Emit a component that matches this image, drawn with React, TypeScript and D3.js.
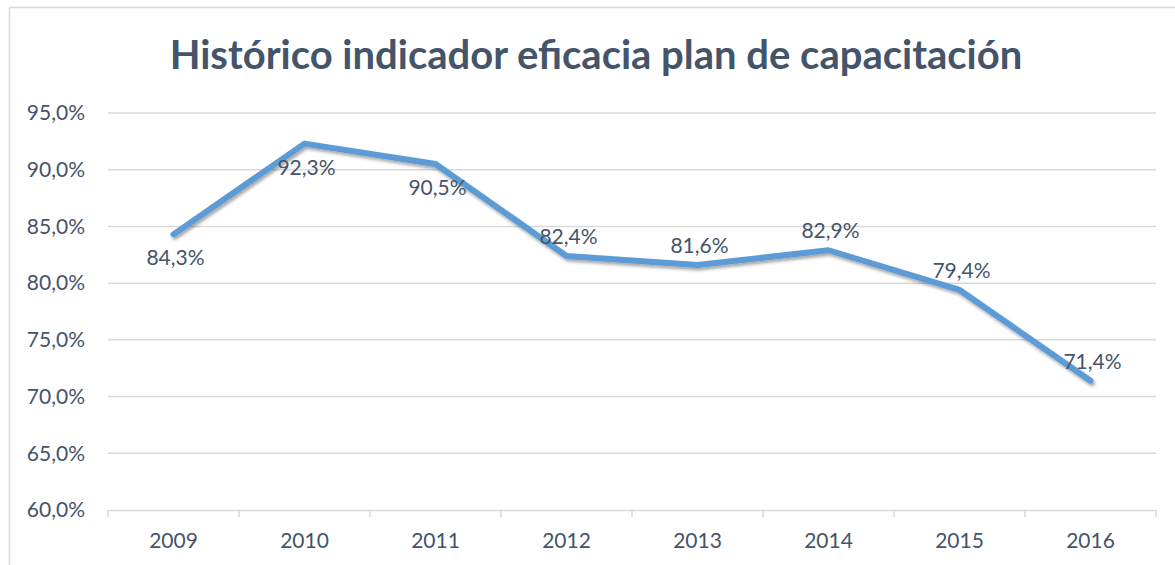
import React, { useEffect, useRef } from 'react';
import * as d3 from 'd3';

const years = ['2009', '2010', '2011', '2012', '2013', '2014', '2015', '2016'];
const eficacia = [84.3, 92.3, 90.5, 82.4, 81.6, 82.9, 79.4, 71.4];
const labelPlacement = ['below', 'below', 'below', 'above', 'above', 'above', 'above', 'above'];
const yTicks = [60, 65, 70, 75, 80, 85, 90, 95];

const title = 'Histórico indicador eficacia plan de capacitación';
const textColor = '#44546A';
const gridColor = '#D9D9D9';
const lineColor = '#5B9BD5';
const font = 'Lato, "Open Sans", sans-serif';

const fmt = (v: number) => v.toFixed(1).replace('.', ',') + '%';

const App = () => {
  const ref = useRef<SVGSVGElement>(null);

  useEffect(() => {
    const svg = d3.select(ref.current);
    svg.selectAll('*').remove();

    const width = 1175;
    const height = 565;
    const margin = { top: 113, right: 19, bottom: 55, left: 108 };

    const x = d3.scaleBand()
      .domain(years)
      .range([margin.left, width - margin.right])
      .padding(0);

    const y = d3.scaleLinear()
      .domain([60, 95])
      .range([height - margin.bottom, margin.top]);

    const defs = svg.append('defs');
    const shadow = defs.append('filter')
      .attr('id', 'lineShadow')
      .attr('x', '-5%').attr('y', '-5%')
      .attr('width', '110%').attr('height', '120%');
    shadow.append('feDropShadow')
      .attr('dx', 1.5).attr('dy', 2.5)
      .attr('stdDeviation', 1.6)
      .attr('flood-color', '#000')
      .attr('flood-opacity', 0.35);

    svg.append('rect')
      .attr('x', 9.5).attr('y', 7.5)
      .attr('width', width + 20).attr('height', height + 20)
      .attr('fill', '#fff')
      .attr('stroke', gridColor)
      .attr('stroke-width', 1.5);

    svg.append('text')
      .attr('x', 596).attr('y', 69)
      .attr('text-anchor', 'middle')
      .attr('font-family', font)
      .attr('font-weight', 700)
      .attr('font-size', 40)
      .attr('fill', textColor)
      .text(title);

    // gridlines
    svg.append('g')
      .selectAll('line')
      .data(yTicks.filter(t => t !== 60))
      .join('line')
      .attr('x1', margin.left).attr('x2', width - margin.right)
      .attr('y1', d => y(d)).attr('y2', d => y(d))
      .attr('stroke', gridColor)
      .attr('stroke-width', 1.5);

    // y axis labels
    const yAxis = svg.append('g')
      .attr('transform', `translate(${margin.left},0)`)
      .call(d3.axisLeft(y).tickValues(yTicks).tickSize(0).tickPadding(23).tickFormat(d => fmt(d as number)));
    yAxis.select('.domain').remove();
    yAxis.selectAll('text')
      .attr('font-family', font)
      .attr('font-size', 21)
      .attr('fill', textColor);

    // x axis
    const xAxis = svg.append('g')
      .attr('transform', `translate(0,${y(60)})`)
      .call(d3.axisBottom(x).tickSize(0).tickPadding(23));
    xAxis.select('.domain')
      .attr('stroke', gridColor)
      .attr('stroke-width', 1.5);
    xAxis.selectAll('text')
      .attr('font-family', font)
      .attr('font-size', 21)
      .attr('fill', textColor);

    const bounds = [...years.map(d => x(d) as number), x.range()[1]];
    xAxis.selectAll('.boundary')
      .data(bounds)
      .join('line')
      .attr('class', 'boundary')
      .attr('x1', d => d).attr('x2', d => d)
      .attr('y1', 0).attr('y2', 7)
      .attr('stroke', gridColor)
      .attr('stroke-width', 1.5);

    const cx = (i: number) => (x(years[i]) as number) + x.bandwidth() / 2;

    const line = d3.line<number>()
      .x((_, i) => cx(i))
      .y(d => y(d));

    svg.append('path')
      .datum(eficacia)
      .attr('fill', 'none')
      .attr('stroke', lineColor)
      .attr('stroke-width', 6)
      .attr('stroke-linejoin', 'round')
      .attr('stroke-linecap', 'round')
      .attr('filter', 'url(#lineShadow)')
      .attr('d', line);

    svg.append('g')
      .selectAll('text')
      .data(eficacia)
      .join('text')
      .attr('x', (_, i) => cx(i) + 2)
      .attr('y', (d, i) => y(d) + (labelPlacement[i] === 'below' ? 31 : -12))
      .attr('text-anchor', 'middle')
      .attr('font-family', font)
      .attr('font-size', 21)
      .attr('fill', textColor)
      .text(d => fmt(d));
  }, []);

  return (
    <svg
      ref={ref}
      width={1175}
      height={565}
      viewBox="0 0 1175 565"
      style={{ position: 'absolute', left: 0, top: 0, display: 'block' }}
    />
  );
};

export default App;
